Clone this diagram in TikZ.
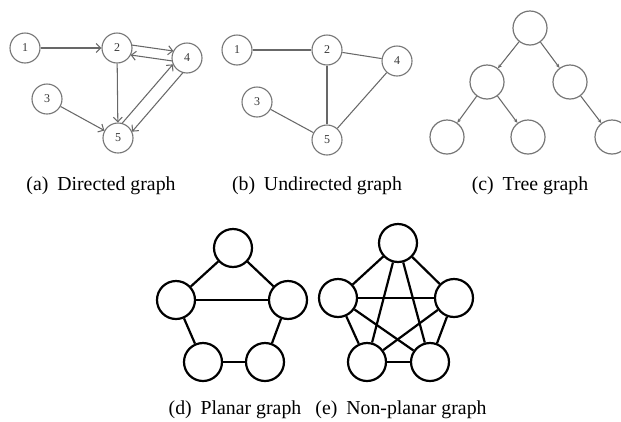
\documentclass[tikz,border=0pt]{standalone}
\usepackage{fontspec}
\setmainfont{Liberation Serif}
\usetikzlibrary{arrows.meta,calc}
\definecolor{edgegray}{HTML}{686868}
\definecolor{ringgray}{HTML}{767676}
\definecolor{labelgray}{HTML}{383838}
\begin{document}
\begin{tikzpicture}[x=1pt,y=-1pt,
  vnum/.style={circle,draw=ringgray,line width=1.1pt,minimum size=30pt,inner sep=0pt,
    font=\fontsize{12}{12}\selectfont,text=labelgray},
  tnode/.style={circle,draw=ringgray,line width=1.2pt,minimum size=34pt,inner sep=0pt},
  bnode/.style={circle,draw=black,line width=2.2pt,minimum size=38pt,inner sep=0pt},
  thin edge/.style={draw=edgegray,line width=1.05pt},
  darr/.style={thin edge,-{Straight Barb[length=4.5pt,width=9pt]}},
  tarr/.style={thin edge,-{Stealth[length=4pt,width=3.5pt]}},
  bold edge/.style={draw=black,line width=2.2pt},
  caption/.style={anchor=base,inner sep=0pt,font=\fontsize{19.8}{23}\selectfont}]
\useasboundingbox (0,0) rectangle (621,421);
\clip (0,0) rectangle (621,421);
\fill[white] (0,0) rectangle (621,421);

% (a) directed graph
\node[vnum] (a1) at (25,48) {1};
\node[vnum] (a2) at (117,48) {2};
\node[vnum] (a4) at (187,58) {4};
\node[vnum] (a3) at (47,99) {3};
\node[vnum] (a5) at (118,138) {5};
\draw[darr] (a1) -- (a2);
\draw[darr] (a2) -- (a5);
\draw[darr] (a3) -- (a5);
\draw[darr,shorten <=14pt,shorten >=14.5pt] ($(a2)!5pt!90:(a4)$) -- ($(a4)!5pt!-90:(a2)$);
\draw[darr,shorten <=14pt,shorten >=14.5pt] ($(a4)!5pt!90:(a2)$) -- ($(a2)!5pt!-90:(a4)$);
\draw[darr,shorten <=13.5pt,shorten >=14pt] ($(a5)!6.5pt!90:(a4)$) -- ($(a4)!6.5pt!-90:(a5)$);
\draw[darr,shorten <=13.5pt,shorten >=14pt] ($(a4)!6.5pt!90:(a5)$) -- ($(a5)!6.5pt!-90:(a4)$);
\node[caption] (capa) at (101,190) {(a)\hspace{0.45em}Directed graph};

% (b) undirected graph
\node[vnum] (b1) at (237,50) {1};
\node[vnum] (b2) at (327,50) {2};
\node[vnum] (b4) at (397,61) {4};
\node[vnum] (b3) at (257,102) {3};
\node[vnum] (b5) at (327,140) {5};
\draw[thin edge] (b1) -- (b2);
\draw[thin edge] (b2) -- (b4);
\draw[thin edge] (b2) -- (b5);
\draw[thin edge] (b3) -- (b5);
\draw[thin edge] (b4) -- (b5);
\node[caption] (capb) at (317,190) {(b)\hspace{0.45em}Undirected graph};

% (c) tree graph
\node[tnode] (c0) at (530,28) {};
\node[tnode] (c1) at (487,82) {};
\node[tnode] (c2) at (570,82) {};
\node[tnode] (c3) at (447,137) {};
\node[tnode] (c4) at (528,137) {};
\node[tnode] (c5) at (612,137) {};
\draw[tarr] (c0) -- (c1);
\draw[tarr] (c0) -- (c2);
\draw[tarr] (c1) -- (c3);
\draw[tarr] (c1) -- (c4);
\draw[tarr] (c2) -- (c5);
\node[caption] (capc) at (530,190) {(c)\hspace{0.45em}Tree graph};

% (d) planar graph
\node[bnode] (d1) at (233,248) {};
\node[bnode] (d2) at (176,300) {};
\node[bnode] (d3) at (288,300) {};
\node[bnode] (d4) at (203,362) {};
\node[bnode] (d5) at (265,362) {};
\draw[bold edge] (d1) -- (d2);
\draw[bold edge] (d1) -- (d3);
\draw[bold edge] (d2) -- (d3);
\draw[bold edge] (d2) -- (d4);
\draw[bold edge] (d3) -- (d5);
\draw[bold edge] (d4) -- (d5);
\node[caption] (capd) at (235,414) {(d)\hspace{0.45em}Planar graph};

% (e) non-planar graph (complete graph on five vertices)
\node[bnode] (e1) at (398,243) {};
\node[bnode] (e2) at (338,298) {};
\node[bnode] (e3) at (454,298) {};
\node[bnode] (e4) at (367,362) {};
\node[bnode] (e5) at (430,362) {};
\foreach \u/\v in {e1/e2,e1/e3,e1/e4,e1/e5,e2/e3,e2/e4,e2/e5,e3/e4,e3/e5,e4/e5}
  \draw[bold edge] (\u) -- (\v);
\node[caption] (cape) at (401,414) {(e)\hspace{0.45em}Non-planar graph};
\end{tikzpicture}
\end{document}
